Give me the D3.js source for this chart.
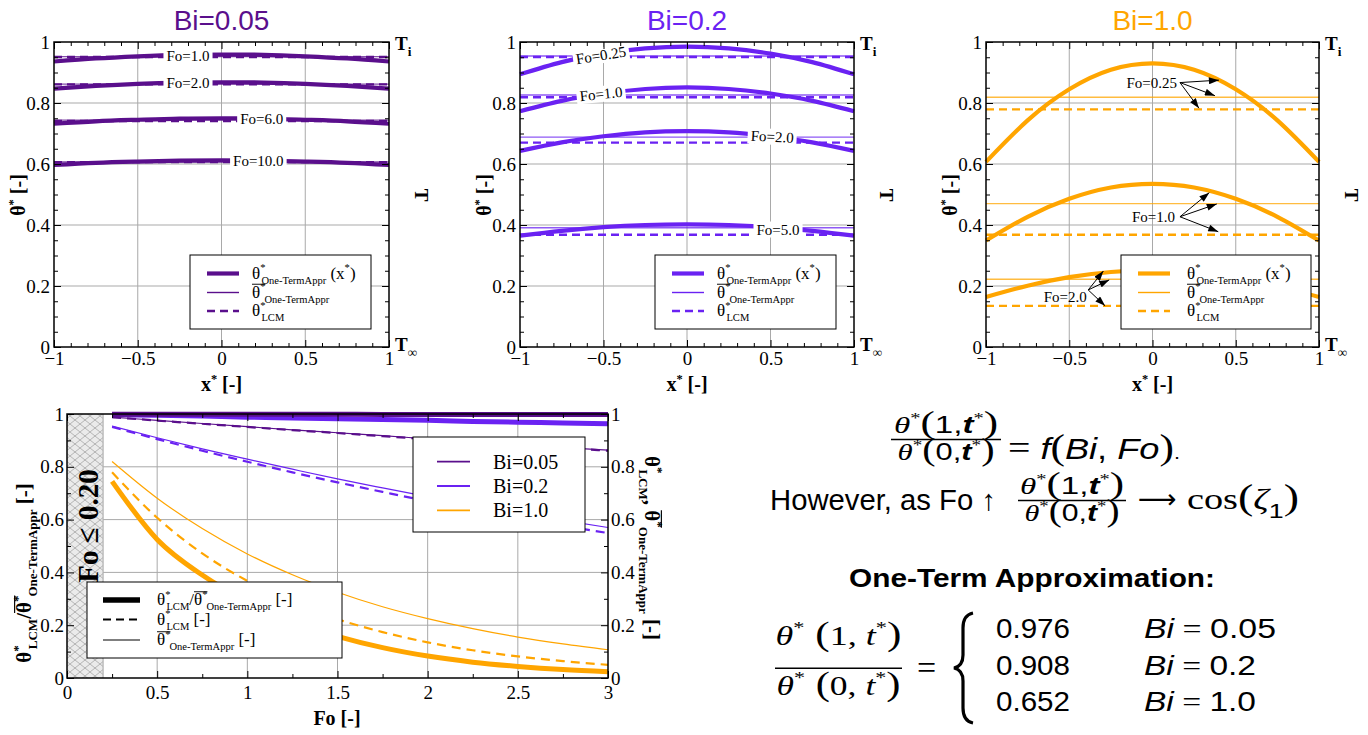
<!DOCTYPE html>
<html><head><meta charset="utf-8">
<script src="https://cdn.jsdelivr.net/npm/d3@7"></script>
<style>
body{margin:0;background:#fff;}
svg{display:block;}
</style></head><body>
<script>
// ================= DATA =================
const xPos = [-1,-0.75,-0.5,-0.25,0,0.25,0.5,0.75,1];
const xMajor = [-1,-0.5,0,0.5,1];
const yMajor = [0,0.2,0.4,0.6,0.8,1];

// Bi = 0.05 profiles
const bi005Labels = ["Fo=1.0","Fo=2.0","Fo=6.0","Fo=10.0"];
const bi005Profiles = [
  [0.936,0.946,0.953,0.958,0.959,0.958,0.953,0.946,0.936],
  [0.847,0.856,0.863,0.867,0.868,0.867,0.863,0.856,0.847],
  [0.732,0.740,0.745,0.749,0.750,0.749,0.745,0.740,0.732],
  [0.597,0.604,0.608,0.611,0.612,0.611,0.608,0.604,0.597]
];
const bi005Mean = [0.952,0.862,0.744,0.607];
const bi005Lcm  = [0.951,0.861,0.741,0.606];
const bi005LabelX = [-0.2,-0.2,0.24,0.22];
const bi005LabelY = [0.955,0.867,0.749,0.612];
const bi005LabelRot = [0,0,0,0];

// Bi = 0.2 profiles
const bi02Labels = ["Fo=0.25","Fo=1.0","Fo=2.0","Fo=5.0"];
const bi02Profiles = [
  [0.894,0.934,0.962,0.979,0.985,0.979,0.962,0.934,0.894],
  [0.773,0.807,0.831,0.846,0.851,0.846,0.831,0.807,0.773],
  [0.643,0.671,0.691,0.704,0.708,0.704,0.691,0.671,0.643],
  [0.365,0.381,0.393,0.400,0.402,0.400,0.393,0.381,0.365]
];
const bi02Mean = [0.954,0.826,0.688,0.391];
const bi02Lcm  = [0.951,0.819,0.670,0.368];
const bi02LabelX = [-0.515,-0.515,0.51,0.545];
const bi02LabelY = [0.957,0.830,0.690,0.386];
const bi02LabelRot = [-9,-6,3,0];

// Bi = 1.0 profiles
const bi1Labels = ["Fo=0.25","Fo=1.0","Fo=2.0"];
const bi1Profiles = [
  [0.607,0.743,0.845,0.909,0.930,0.909,0.845,0.743,0.607],
  [0.349,0.427,0.486,0.523,0.535,0.523,0.486,0.427,0.349],
  [0.164,0.201,0.229,0.246,0.252,0.246,0.229,0.201,0.164]
];
const bi1Mean = [0.819,0.470,0.222];
const bi1Lcm  = [0.779,0.368,0.135];
const bi1AnnTextX = [0.147,0.135,-0.395];
const bi1AnnTextY = [0.849,0.410,0.148];
const bi1AnnStart = [[0.165,0.867],[0.165,0.427],[-0.386,0.187]];
const bi1AnnEnds = [
  [[0.399,0.875],[0.375,0.824],[0.279,0.783]],
  [[0.341,0.506],[0.386,0.469],[0.395,0.378]],
  [[-0.295,0.249],[-0.26,0.220],[-0.285,0.135]]
];

// Bottom panel: vs Fo
const foVals = [0.25,0.5,0.75,1,1.25,1.5,1.75,2,2.25,2.5,2.75,3];
const foMajor = [0,0.5,1,1.5,2,2.5,3];
const hatchLimit = 0.2;
const ratio005 = [0.999,0.999,0.999,0.999,0.999,0.999,0.998,0.998,0.998,0.998,0.998,0.998];
const lcm005   = [0.988,0.975,0.963,0.951,0.939,0.928,0.916,0.905,0.894,0.882,0.872,0.861];
const mean005  = [0.988,0.976,0.964,0.952,0.940,0.929,0.918,0.906,0.895,0.884,0.873,0.863];
const ratio02  = [0.998,0.995,0.992,0.988,0.985,0.982,0.979,0.976,0.972,0.969,0.966,0.963];
const lcm02    = [0.951,0.905,0.861,0.819,0.779,0.741,0.705,0.670,0.638,0.607,0.577,0.549];
const mean02   = [0.954,0.910,0.868,0.829,0.791,0.754,0.720,0.687,0.656,0.626,0.597,0.570];
const ratio1   = [0.745,0.525,0.390,0.290,0.212,0.158,0.115,0.083,0.060,0.044,0.032,0.024];
const lcm1     = [0.779,0.607,0.472,0.368,0.287,0.223,0.174,0.135,0.105,0.082,0.064,0.050];
const mean1    = [0.820,0.681,0.566,0.470,0.391,0.325,0.270,0.225,0.187,0.155,0.129,0.107];
const biNames  = ["Bi=0.05","Bi=0.2","Bi=1.0"];

// One-term ratios
const ratioValues = ["0.976","0.908","0.652"];
const ratioBi = ["0.05","0.2","1.0"];

// ================= STYLE =================
const C005 = "#5a0f8c", C02 = "#6a22f2", C1 = "#ffa500";
const SERIF = "'Liberation Serif',serif", SANS = "'Liberation Sans',sans-serif";

const svg = d3.select("body").append("svg").attr("width",1368).attr("height",735)
  .style("font-family",SERIF);
const defs = svg.append("defs");
const pat = defs.append("pattern").attr("id","hatch").attr("patternUnits","userSpaceOnUse").attr("width",10).attr("height",8);
pat.append("rect").attr("width",10).attr("height",8).attr("fill","#ebebeb");
pat.append("path").attr("d","M0,0L10,8M10,0L0,8").attr("stroke","#8f8f8f").attr("stroke-width",0.6);
defs.append("marker").attr("id","arr").attr("viewBox","0 0 10 7").attr("refX",10).attr("refY",3.5)
  .attr("markerWidth",11).attr("markerHeight",7).attr("markerUnits","userSpaceOnUse").attr("orient","auto")
  .append("path").attr("d","M0,0L10,3.5L0,7z").attr("fill","#000");

function rich(parent, x, y, parts, o={}) {
  const fs = o.fs||18;
  const t = parent.append("text").attr("x",x).attr("y",y)
    .attr("font-size",fs).attr("font-family",o.ff||SERIF)
    .attr("font-weight",o.fw||"normal").attr("fill",o.fill||"#000")
    .attr("text-anchor",o.anchor||"start");
  const tr = o.rot ? `rotate(${o.rot},${x},${y})` : null;
  if (tr) t.attr("transform",tr);
  if (o.len) t.attr("textLength",o.len).attr("lengthAdjust","spacingAndGlyphs");
  let cur=0, ci=0; const ols=[];
  parts.forEach(p=>{
    if (typeof p==="string") p={t:p};
    const target = p.s==="sup"? -0.42*fs : p.s==="sub" ? 0.3*fs : 0;
    const ts=t.append("tspan").text(p.t);
    if (target!==cur) ts.attr("dy",target-cur);
    cur=target;
    if (p.s) ts.attr("font-size",(p.fs||0.62)*fs);
    else if (p.fs) ts.attr("font-size",p.fs*fs);
    if (p.dx) ts.attr("dx",p.dx);
    if (p.it) ts.attr("font-style","italic");
    if (p.ff) ts.attr("font-family",p.ff);
    if (p.fw) ts.attr("font-weight",p.fw);
    if (p.ol) ols.push(ci);
    ci += p.t.length;
  });
  ols.forEach(idx=>{
    const n=t.node();
    try{
      const s=n.getStartPositionOfChar(idx), e=n.getEndPositionOfChar(idx+1);
      const ly=s.y-0.78*fs;
      const l=parent.append("line").attr("x1",s.x).attr("x2",e.x).attr("y1",ly).attr("y2",ly)
        .attr("stroke",o.fill||"#000").attr("stroke-width",Math.max(0.8,fs*0.055));
      if (tr) l.attr("transform",tr);
    }catch(err){}
  });
  return t;
}

const fmt = d => (d<0?"\u2212":"") + Math.abs(d);

function grid(g,x,y,xv,yv){
  const [yb,yt]=y.range(), [xl,xr]=x.range();
  g.append("g").selectAll("line").data(xv).join("line")
    .attr("x1",d=>x(d)).attr("x2",d=>x(d)).attr("y1",yb).attr("y2",yt)
    .attr("stroke","#a9a9a9").attr("stroke-width",1);
  g.append("g").selectAll("line").data(yv).join("line")
    .attr("y1",d=>y(d)).attr("y2",d=>y(d)).attr("x1",xl).attr("x2",xr)
    .attr("stroke","#a9a9a9").attr("stroke-width",1);
}

function frameAxes(g,x,y,o){
  const [X0,X1]=x.range(), [Yb,Yt]=y.range();
  const mk=(fn,scale,vals,size,f,pad,tr)=>{
    const a=g.append("g").attr("transform",tr)
      .call(fn(scale).tickValues(vals).tickSizeInner(-size).tickSizeOuter(0).tickPadding(pad).tickFormat(f||(()=>"")));
    a.select(".domain").remove();
    a.attr("font-family",SERIF).attr("font-size",19);
    a.selectAll("line").attr("stroke","#000");
    a.selectAll("text").attr("fill","#000");
    return a;
  };
  mk(d3.axisBottom,x,o.xMajor,7,fmt,o.xPad||5,`translate(0,${Yb})`);
  mk(d3.axisBottom,x,o.xMinor,4,null,0,`translate(0,${Yb})`);
  mk(d3.axisTop,x,o.xMajor,7,null,0,`translate(0,${Yt})`);
  mk(d3.axisTop,x,o.xMinor,4,null,0,`translate(0,${Yt})`);
  mk(d3.axisLeft,y,o.yMajor,7,fmt,o.yPad||4,`translate(${X0},0)`);
  mk(d3.axisLeft,y,o.yMinor,4,null,0,`translate(${X0},0)`);
  mk(d3.axisRight,y,o.yMajor,7,o.rightLabels?fmt:null,o.yPad||5,`translate(${X1},0)`);
  mk(d3.axisRight,y,o.yMinor,4,null,0,`translate(${X1},0)`);
  g.append("rect").attr("x",X0).attr("y",Yt).attr("width",X1-X0).attr("height",Yb-Yt)
    .attr("fill","none").attr("stroke","#000").attr("stroke-width",1.5);
}

const minorX = d3.range(-10,11).map(d=>d/10).filter(d=>Math.abs(d*2-Math.round(d*2))>1e-6);
const minorY = d3.range(0,21).map(d=>d/20).filter(d=>Math.abs(d*5-Math.round(d*5))>1e-6);

function topPanel(c){
  const x=d3.scaleLinear([-1,1],[c.x0,c.x1]);
  const y=d3.scaleLinear([0,1],[347,42]);
  const g=svg.append("g");
  grid(g,x,y,[-0.5,0,0.5],[0.2,0.4,0.6,0.8]);
  g.append("g").selectAll("line").data(c.mean).join("line")
    .attr("x1",x(-1)).attr("x2",x(1)).attr("y1",d=>y(d)).attr("y2",d=>y(d))
    .attr("stroke",c.color).attr("stroke-width",1.4).attr("stroke-opacity",0.75);
  g.append("g").selectAll("line").data(c.lcm).join("line")
    .attr("x1",x(-1)).attr("x2",x(1)).attr("y1",d=>y(d)).attr("y2",d=>y(d))
    .attr("stroke",c.color).attr("stroke-width",2.4).attr("stroke-dasharray","8,5");
  const line=d3.line().x((d,i)=>x(xPos[i])).y(d=>y(d)).curve(d3.curveNatural);
  g.append("g").selectAll("path").data(c.profiles).join("path")
    .attr("d",line).attr("fill","none").attr("stroke",c.color).attr("stroke-width",4.2);
  if (c.labX){
    c.labels.forEach((t,i)=>{
      const lg=g.append("g").attr("transform",`translate(${x(c.labX[i])},${y(c.labY[i])}) rotate(${c.labR[i]})`);
      const tx=lg.append("text").attr("text-anchor","middle").attr("dy","0.35em").attr("font-size",15).text(t);
      const bb=tx.node().getBBox();
      lg.insert("rect","text").attr("x",bb.x-3).attr("y",bb.y).attr("width",bb.width+6).attr("height",bb.height).attr("fill","#fff");
    });
  }
  if (c.ann){
    c.labels.forEach((t,i)=>{
      g.append("text").attr("x",x(c.ann.tx[i])).attr("y",y(c.ann.ty[i])).attr("text-anchor","end")
        .attr("font-size",15).text(t);
      const s=c.ann.start[i];
      c.ann.ends[i].forEach(e=>{
        g.append("line").attr("x1",x(s[0])).attr("y1",y(s[1])).attr("x2",x(e[0])).attr("y2",y(e[1]))
          .attr("stroke","#000").attr("stroke-width",1).attr("marker-end","url(#arr)");
      });
    });
  }
  const lw=c.legW, lx=c.x1-c.legR-lw, ly=347-92;
  const lgd=g.append("g");
  lgd.append("rect").attr("x",lx).attr("y",ly).attr("width",lw).attr("height",74)
    .attr("fill","#fff").attr("stroke","#000").attr("stroke-width",1);
  const rows=[18.5,37.5,56];
  const styles=[{w:4.2,da:null},{w:1.4,da:null},{w:2.4,da:"8,5"}];
  rows.forEach((ry,i)=>{
    lgd.append("line").attr("x1",lx+17).attr("x2",lx+49).attr("y1",ly+ry).attr("y2",ly+ry)
      .attr("stroke",c.color).attr("stroke-width",styles[i].w).attr("stroke-dasharray",styles[i].da);
  });
  const tx=lx+c.legTx;
  rich(lgd,tx,ly+rows[0]+5,[{t:"θ"},{t:"*",s:"sup"},{t:"One-TermAppr",s:"sub",dx:-4},{t:" (x"},{t:"*",s:"sup"},{t:")"}],{fs:17});
  rich(lgd,tx,ly+rows[1]+5,[{t:"θ",ol:1},{t:"*",s:"sup"},{t:"One-TermAppr",s:"sub",dx:-1}],{fs:17});
  rich(lgd,tx,ly+rows[2]+5,[{t:"θ"},{t:"*",s:"sup"},{t:"LCM",s:"sub",dx:-4}],{fs:17});
  frameAxes(g,x,y,{xMajor,xMinor:minorX,yMajor,yMinor:minorY,xPad:5,yPad:4});
  g.append("text").attr("x",(c.x0+c.x1)/2).attr("y",30).attr("text-anchor","middle")
    .attr("font-family",SANS).attr("font-size",28).attr("fill",c.color).text(c.title);
  rich(g,(c.x0+c.x1)/2,391,[{t:"x"},{t:"*",s:"sup"},{t:" [-]"}],{fs:20,fw:"bold",anchor:"middle"});
  rich(g,c.x0-29,195,[{t:"θ"},{t:"*",s:"sup"},{t:" [-]"}],{fs:20,fw:"bold",anchor:"middle",rot:-90});
  rich(g,c.x1+6,50,[{t:"T"},{t:"i",s:"sub",fs:0.7}],{fs:19,fw:"bold"});
  rich(g,c.x1+6,351,[{t:"T"},{t:"∞",s:"sub",fs:0.7}],{fs:19,fw:"bold"});
  rich(g,c.x1+26,195,[{t:"T"}],{fs:19,fw:"bold",anchor:"middle",rot:90});
}

topPanel({x0:54,x1:389,color:C005,title:"Bi=0.05",profiles:bi005Profiles,mean:bi005Mean,lcm:bi005Lcm,
  labels:bi005Labels,labX:bi005LabelX,labY:bi005LabelY,labR:bi005LabelRot,legW:181,legR:18,legTx:62});
topPanel({x0:520,x1:854,color:C02,title:"Bi=0.2",profiles:bi02Profiles,mean:bi02Mean,lcm:bi02Lcm,
  labels:bi02Labels,labX:bi02LabelX,labY:bi02LabelY,labR:bi02LabelRot,legW:181,legR:18,legTx:62});
topPanel({x0:986,x1:1319,color:C1,title:"Bi=1.0",profiles:bi1Profiles,mean:bi1Mean,lcm:bi1Lcm,
  labels:bi1Labels,ann:{tx:bi1AnnTextX,ty:bi1AnnTextY,start:bi1AnnStart,ends:bi1AnnEnds},legW:190,legR:8,legTx:66});

// ================= BOTTOM PANEL =================
(function(){
  const x=d3.scaleLinear([0,3],[67,608]);
  const y=d3.scaleLinear([0,1],[678,414]);
  const g=svg.append("g");
  grid(g,x,y,[0.5,1,1.5,2,2.5],[0.2,0.4,0.6,0.8]);
  g.append("rect").attr("x",x(0)).attr("y",y(1)).attr("width",x(hatchLimit)-x(0)).attr("height",y(0)-y(1))
    .attr("fill","url(#hatch)");
  g.append("line").attr("x1",x(hatchLimit)).attr("x2",x(hatchLimit)).attr("y1",y(0)).attr("y2",y(1))
    .attr("stroke","#b0b0b0").attr("stroke-width",1.2);
  const line=d3.line().x((d,i)=>x(foVals[i])).y(d=>y(d)).curve(d3.curveMonotoneX);
  const series=[
    {c:C1,ratio:ratio1,lcm:lcm1,mean:mean1},
    {c:C02,ratio:ratio02,lcm:lcm02,mean:mean02},
    {c:C005,ratio:ratio005,lcm:lcm005,mean:mean005}
  ];
  series.forEach(s=>{
    g.append("path").attr("d",line(s.mean)).attr("fill","none").attr("stroke",s.c).attr("stroke-width",1.2);
    g.append("path").attr("d",line(s.lcm)).attr("fill","none").attr("stroke",s.c).attr("stroke-width",2.2).attr("stroke-dasharray","9,6");
    g.append("path").attr("d",line(s.ratio)).attr("fill","none").attr("stroke",s.c).attr("stroke-width",5);
  });
  rich(g,98,526,[{t:`Fo ≤ ${hatchLimit.toFixed(2)}`}],{fs:29,fw:"bold",anchor:"middle",rot:-90});
  const bx=413, by=437;
  g.append("rect").attr("x",bx).attr("y",by).attr("width",172).attr("height",95)
    .attr("fill","#fff").attr("stroke","#000").attr("stroke-width",1);
  [C005,C02,C1].forEach((col,i)=>{
    const ry=by+24.7+i*24.3;
    g.append("line").attr("x1",bx+24).attr("x2",bx+57).attr("y1",ry).attr("y2",ry).attr("stroke",col).attr("stroke-width",1.8);
    g.append("text").attr("x",bx+80).attr("y",ry+7).attr("font-size",20).text(biNames[i]);
  });
  const sx=87, sy=582;
  g.append("rect").attr("x",sx).attr("y",sy).attr("width",255).attr("height",76)
    .attr("fill","#fff").attr("stroke","#000").attr("stroke-width",1);
  const srows=[18,37.5,58];
  const sst=[{w:5.5,da:null},{w:2,da:"8,5"},{w:1.2,da:null}];
  srows.forEach((ry,i)=>{
    g.append("line").attr("x1",sx+16).attr("x2",sx+53).attr("y1",sy+ry).attr("y2",sy+ry)
      .attr("stroke","#000").attr("stroke-width",sst[i].w).attr("stroke-dasharray",sst[i].da);
  });
  rich(g,sx+70,sy+srows[0]+5,[{t:"θ"},{t:"*",s:"sup"},{t:"LCM",s:"sub",dx:-4},{t:"/"},{t:"θ",ol:1},{t:"*",s:"sup"},{t:"One-TermAppr",s:"sub",dx:-1},{t:" [-]"}],{fs:17});
  rich(g,sx+70,sy+srows[1]+5,[{t:"θ"},{t:"*",s:"sup"},{t:"LCM",s:"sub",dx:-4},{t:" [-]"}],{fs:17});
  rich(g,sx+70,sy+srows[2]+5,[{t:"θ",ol:1},{t:"*",s:"sup"},{t:"One-TermAppr",s:"sub",dx:-1},{t:" [-]"}],{fs:17});
  frameAxes(g,x,y,{xMajor:foMajor,xMinor:d3.range(1,12).map(d=>d/4).filter(d=>d%0.5!==0),
    yMajor,yMinor:d3.range(1,10).map(d=>d/10).filter(d=>d*10%2!==0),xPad:8,yPad:3,rightLabels:true});
  rich(g,337,725,[{t:"Fo [-]"}],{fs:20,fw:"bold",anchor:"middle"});
  rich(g,31,573,[{t:"θ"},{t:"*",s:"sup"},{t:"LCM",s:"sub",dx:-4},{t:"/"},{t:"θ",ol:1},{t:"*",s:"sup"},{t:"One-TermAppr",s:"sub",dx:-1},{t:" [-]"}],{fs:21,fw:"bold",anchor:"middle",rot:-90});
  rich(g,645,548,[{t:"θ"},{t:"*",s:"sup"},{t:"LCM",s:"sub",dx:-4},{t:", "},{t:"θ",ol:1},{t:"*",s:"sup"},{t:"One-TermAppr",s:"sub",dx:-1},{t:" [-]"}],{fs:21,fw:"bold",anchor:"middle",rot:90});
})();

// ================= MATH TEXT =================
(function(){
  const m=svg.append("g");
  const frac=(cx,nb,bar,db,nl,dl,bw,fs,ff,parts)=>{
    rich(m,cx,nb,parts("1"),{fs,ff,anchor:"middle",len:nl});
    m.append("line").attr("x1",cx-bw/2).attr("x2",cx+bw/2).attr("y1",bar).attr("y2",bar).attr("stroke","#000").attr("stroke-width",1.4);
    rich(m,cx,db,parts("0"),{fs,ff,anchor:"middle",len:dl});
  };
  const smallParts = n => [{t:"θ",it:1,ff:SERIF},{t:"*",s:"sup",ff:SERIF},{t:"(",fs:1.3,ff:SERIF},{t:n+","},{t:"t",it:1,fw:"bold"},{t:"*",s:"sup",ff:SERIF},{t:")",fs:1.3,ff:SERIF}];
  frac(946,433,439.5,460,104,97,110,24,SANS,smallParts);
  rich(m,1008,459,[{t:"= ",ff:SERIF,fs:1.1},{t:"f",it:1},{t:"(",fs:1.2,ff:SERIF},{t:"Bi",it:1},{t:", "},{t:"Fo",it:1},{t:")",fs:1.2,ff:SERIF},{t:".",fs:0.6}],{fs:30,ff:SANS,len:172});
  rich(m,770,510,[{t:"However, as Fo ↑"}],{fs:29,ff:SANS,len:226});
  frac(1072,494,500.5,521,104,95,108,24,SANS,smallParts);
  m.append("text").attr("x",1138).attr("y",508).attr("font-family","'DejaVu Sans',sans-serif").attr("font-size",27).text("⟶");
  rich(m,1187,509,[{t:"cos"},{t:"(",fs:1.2},{t:"ζ",it:1},{t:"1",s:"sub",ff:SANS,fs:0.7},{t:")",fs:1.2}],{fs:30,ff:SERIF,len:112});
  rich(m,1032,587,[{t:"One-Term Approximation:"}],{fs:25,ff:SANS,fw:"bold",anchor:"middle",len:366});
  const bigParts = n => [{t:"θ",it:1},{t:"*",s:"sup"},{t:" (",fs:1.2},{t:n+", "},{t:"t",it:1},{t:"*",s:"sup"},{t:")",fs:1.2}];
  frac(838.5,645,668.3,695,126,124,127,28,SERIF,bigParts);
  m.append("text").attr("x",926.5).attr("y",679).attr("text-anchor","middle").attr("font-size",34).text("=");
  const bx=973, bt=613, bb=723, bm=(bt+bb)/2;
  m.append("path").attr("d",`M${bx},${bt} Q${bx-10},${bt+2} ${bx-10},${bt+15} L${bx-10},${bm-13} Q${bx-10},${bm-2} ${bx-19},${bm} Q${bx-10},${bm+2} ${bx-10},${bm+13} L${bx-10},${bb-15} Q${bx-10},${bb-2} ${bx},${bb}`)
    .attr("fill","none").attr("stroke","#000").attr("stroke-width",3.2);
  ratioValues.forEach((v,i)=>{
    const yb=638+i*36.5;
    m.append("text").attr("x",996).attr("y",yb).attr("font-family",SANS).attr("font-size",27)
      .attr("textLength",74).attr("lengthAdjust","spacingAndGlyphs").text(v);
    rich(m,1144,yb,[{t:"Bi",it:1},{t:" = ",ff:SERIF},{t:ratioBi[i]}],{fs:27,ff:SANS,len:i===0?132:112});
  });
})();
</script>
</body></html>
